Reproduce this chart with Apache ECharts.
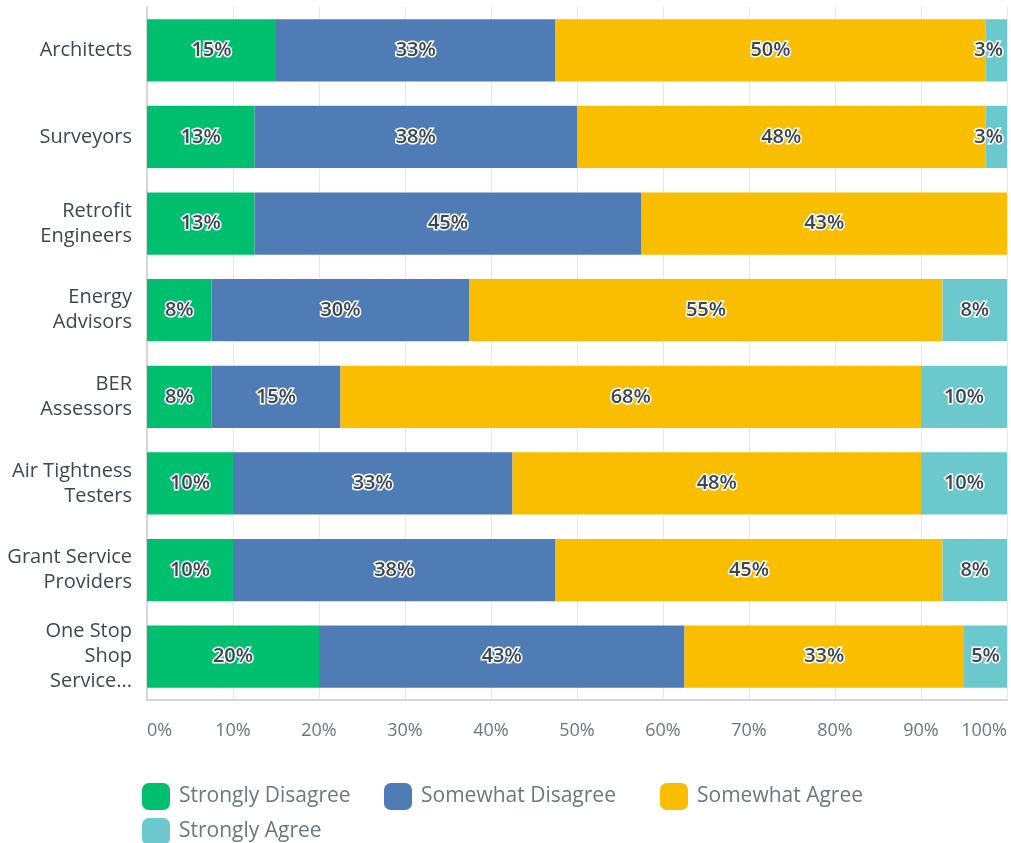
<!DOCTYPE html>
<html>
<head>
<meta charset="utf-8">
<script src="https://cdn.jsdelivr.net/npm/echarts@6/dist/echarts.min.js"></script>
<style>
  html, body { margin: 0; padding: 0; background: #ffffff; }
  #chart { width: 1011px; height: 843px; }
</style>
</head>
<body>
<div id="chart"></div>
<script>
// Respondent groups (top to bottom)
const categories = [
  'Architects',
  'Surveyors',
  'Retrofit\nEngineers',
  'Energy\nAdvisors',
  'BER\nAssessors',
  'Air Tightness\nTesters',
  'Grant Service\nProviders',
  'One Stop\nShop\nService...'
];

// Share of responses (%) per answer
const stronglyDisagree = [15, 12.5, 12.5, 7.5, 7.5, 10, 10, 20];
const somewhatDisagree = [32.5, 37.5, 45, 30, 15, 32.5, 37.5, 42.5];
const somewhatAgree    = [50, 47.5, 42.5, 55, 67.5, 47.5, 45, 32.5];
const stronglyAgree    = [2.5, 2.5, 0, 7.5, 10, 10, 7.5, 5];

const tickValues = [0, 10, 20, 30, 40, 50, 60, 70, 80, 90, 100];

const seriesDefs = [
  { name: 'Strongly Disagree', values: stronglyDisagree, color: '#00bf6f' },
  { name: 'Somewhat Disagree', values: somewhatDisagree, color: '#507cb6' },
  { name: 'Somewhat Agree',    values: somewhatAgree,    color: '#f9be00' },
  { name: 'Strongly Agree',    values: stronglyAgree,    color: '#6bc8cd' }
];

// legend entry placement: [left, top] per series
const legendSpots = [[142, 783], [384, 783], [660, 783], [142, 818]];

const FONT = "'Open Sans', 'Noto Sans', sans-serif";

const chart = echarts.init(document.getElementById('chart'), null, { renderer: 'canvas' });

const series = seriesDefs.map(def => ({
  name: def.name,
  type: 'bar',
  stack: 'total',
  barWidth: '72%',
  itemStyle: { color: def.color },
  label: {
    show: true,
    position: 'inside',
    formatter: p => (p.value > 0 ? Math.round(p.value) + '%' : ''),
    color: '#3a4752',
    fontFamily: FONT,
    fontSize: 20,
    fontWeight: 600,
    textBorderColor: '#ffffff',
    textBorderWidth: 3
  },
  // narrow segments keep their label flush against the bar's right end
  data: def.values.map(v => v > 0 && v < 5
    ? { value: v, label: { position: 'insideRight', distance: 4 } }
    : v),
  emphasis: { disabled: true }
}));

const legends = seriesDefs.map((def, i) => ({
  data: [def.name],
  left: legendSpots[i][0],
  top: legendSpots[i][1],
  padding: 0,
  itemWidth: 28,
  itemHeight: 27,
  icon: 'roundRect',
  selectedMode: false,
  textStyle: { color: '#6b787f', fontSize: 21, fontFamily: FONT, padding: [0, 0, 0, 4] }
}));

chart.setOption({
  animation: false,
  backgroundColor: '#ffffff',
  textStyle: { fontFamily: FONT },
  grid: { left: 147, right: 4, top: 7, bottom: 143, containLabel: false },
  xAxis: {
    type: 'value',
    min: tickValues[0],
    max: tickValues[tickValues.length - 1],
    interval: 10,
    axisLine: { show: true, lineStyle: { color: '#d6d6d6', width: 2 } },
    axisTick: { show: false },
    splitLine: { show: true, lineStyle: { color: '#e8e8e8', width: 1 } },
    axisLabel: {
      formatter: v => v + '%',
      color: '#6b787f',
      fontSize: 18,
      fontFamily: FONT,
      margin: 22,
      alignMinLabel: 'left',
      alignMaxLabel: 'right'
    }
  },
  yAxis: {
    type: 'category',
    data: categories,
    inverse: true,
    axisLine: { show: true, lineStyle: { color: '#d6d6d6', width: 2 } },
    axisTick: { show: false },
    axisLabel: {
      color: '#3d4853',
      fontSize: 20,
      fontFamily: FONT,
      lineHeight: 25,
      margin: 15,
      align: 'right'
    }
  },
  legend: legends,
  series: series
});
</script>
</body>
</html>
